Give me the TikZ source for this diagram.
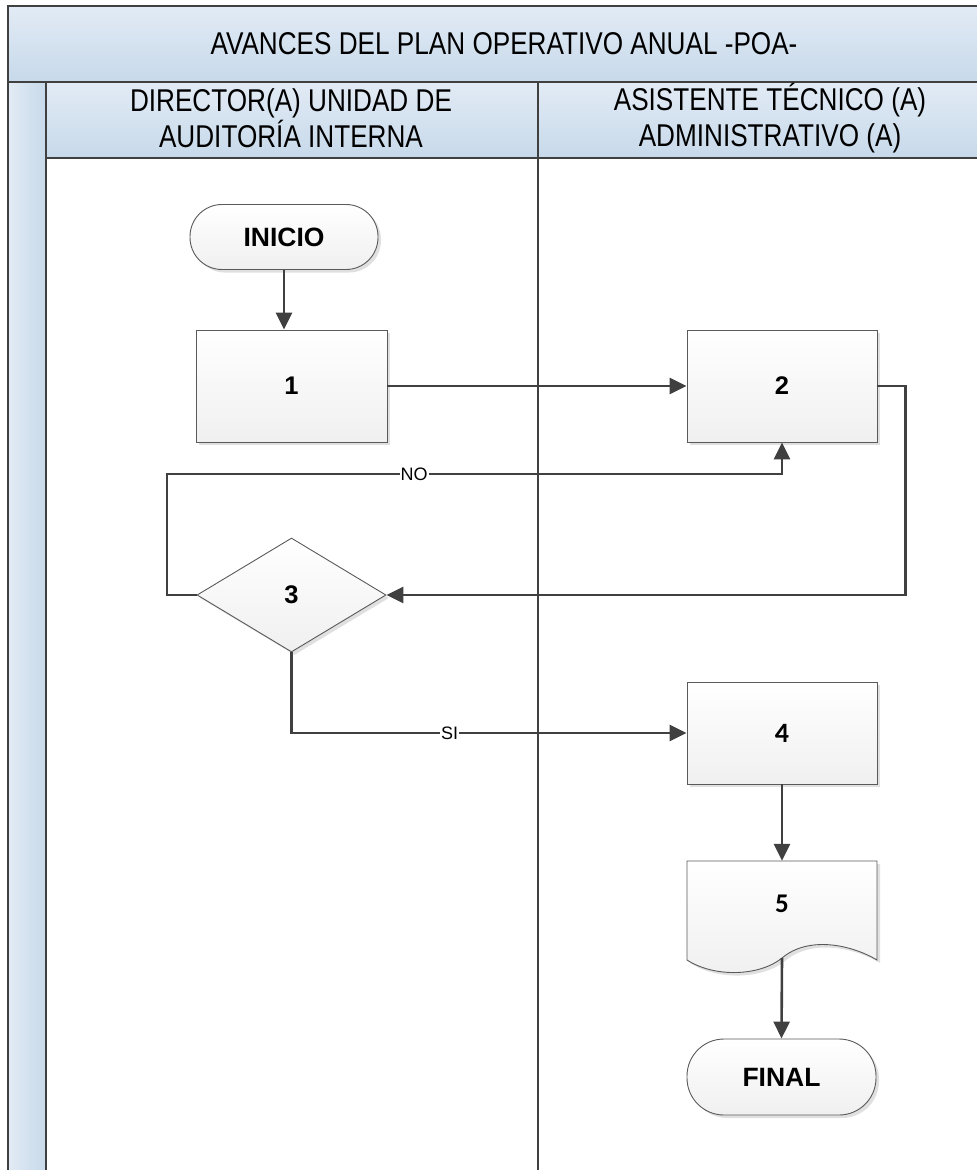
\documentclass[tikz,border=0pt]{standalone}
\usepackage{fontspec}
\setmainfont{Liberation Sans}
\newfontfamily\narrowfont{Liberation Sans}[FakeStretch=0.83]
\newfontfamily\calib{Carlito}
\usetikzlibrary{arrows.meta,shadows,shapes.geometric}
\definecolor{ln}{HTML}{404040}
\definecolor{bx}{HTML}{5A5A5A}
\definecolor{hdtop}{HTML}{E2EBF5}
\definecolor{hdbot}{HTML}{C7D9EA}
\tikzset{
  frame/.style={draw=ln, line width=2pt},
  hdr/.style={frame, top color=hdtop, bottom color=hdbot},
  shad/.style={drop shadow={shadow xshift=3pt, shadow yshift=-3pt, fill=black!12, opacity=1}},
  boxfill/.style={draw=bx, line width=0.9pt, top color=white, bottom color=black!6},
  proc/.style={boxfill, shad, rectangle, inner sep=0pt, minimum width=190pt, minimum height=112pt, font=\bfseries\fontsize{25.5}{25.5}\selectfont},
  term/.style={proc, rounded corners=32pt, minimum height=65pt, font=\bfseries\fontsize{26.5}{26.5}\selectfont},
  dec/.style={boxfill, shad, diamond, inner sep=0pt, minimum width=189pt, minimum height=114pt, font=\bfseries\fontsize{25.5}{25.5}\selectfont},
  conn/.style={draw=ln, line width=2.6pt, -{Triangle[length=17pt,width=16pt]}},
  lbl/.style={fill=white, inner sep=1pt, font=\fontsize{18}{18}\selectfont, text=black},
  hdtext/.style={align=center, font=\narrowfont\fontsize{31.5}{36}\selectfont, text=black},
}
\begin{document}
\begin{tikzpicture}[x=1pt,y=-1pt]
\useasboundingbox (0,0) rectangle (977,1170);
\clip (0,0) rectangle (977,1170);
% pool and lanes
\path[hdr] (8,6) rectangle (1005,82);
\path[hdr] (46,82) rectangle (1005,158);
\path[frame, left color=hdtop, right color=hdbot] (8,82) rectangle (46,1180);
\path[frame] (46,158) rectangle (538,1180);
\path[frame] (538,82) -- (538,1180);
\node[hdtext] (title) at (504,44) {AVANCES DEL PLAN OPERATIVO ANUAL -POA-};
\node[hdtext] (lane1) at (291,118) {DIRECTOR(A) UNIDAD DE\\AUDITORÍA INTERNA};
\node[hdtext] (lane2) at (770,118) {ASISTENTE TÉCNICO (A)\\ADMINISTRATIVO (A)};
% nodes
\node[term, minimum width=188pt] (ini) at (284,237) {INICIO};
\node[proc, minimum width=191pt] (n1) at (291.5,386) {1};
\node[proc] (n2) at (782,386) {2};
\node[dec] (n3) at (291.5,595) {3};
\node[proc, minimum height=102pt, font=\calib\bfseries\fontsize{28}{28}\selectfont] (n4) at (782,733) {4};
% document shape 5
\path[boxfill, shad] (687,861) -- (877,861) -- (877,960)
  .. controls (850,944) and (808,936) .. (782,958)
  .. controls (760,976) and (715,978) .. (687,960) -- cycle;
\node[rectangle, inner sep=0pt, minimum width=190pt, minimum height=97pt, font=\calib\bfseries\fontsize{27}{27}\selectfont] (n5) at (782,909.5) {\raisebox{6pt}[\height][\depth]{5}};
\node[term, minimum width=189pt, minimum height=76pt, rounded corners=37pt] (fin) at (781.5,1077) {FINAL};
% connectors
\coordinate (nol) at (167,474);
\coordinate (nor) at (n2.south |- nol);
\draw[conn] (ini.south) -- (ini.south |- n1.north);
\draw[conn] (n1.east) -- (n2.west);
\draw[conn] (n2.east) -- ++(28,0) |- (n3.east);
\draw[conn] (n3.west) -| (nol) -- node[lbl, pos=0.402]{NO} (nor) -- (n2.south);
\draw[conn] (n3.south) |- node[lbl, pos=0.70]{SI} (n4.west);
\draw[conn] (n4.south) -- (n5.north);
\draw[conn] (n5.south) -- (fin.north);
\end{tikzpicture}
\end{document}
